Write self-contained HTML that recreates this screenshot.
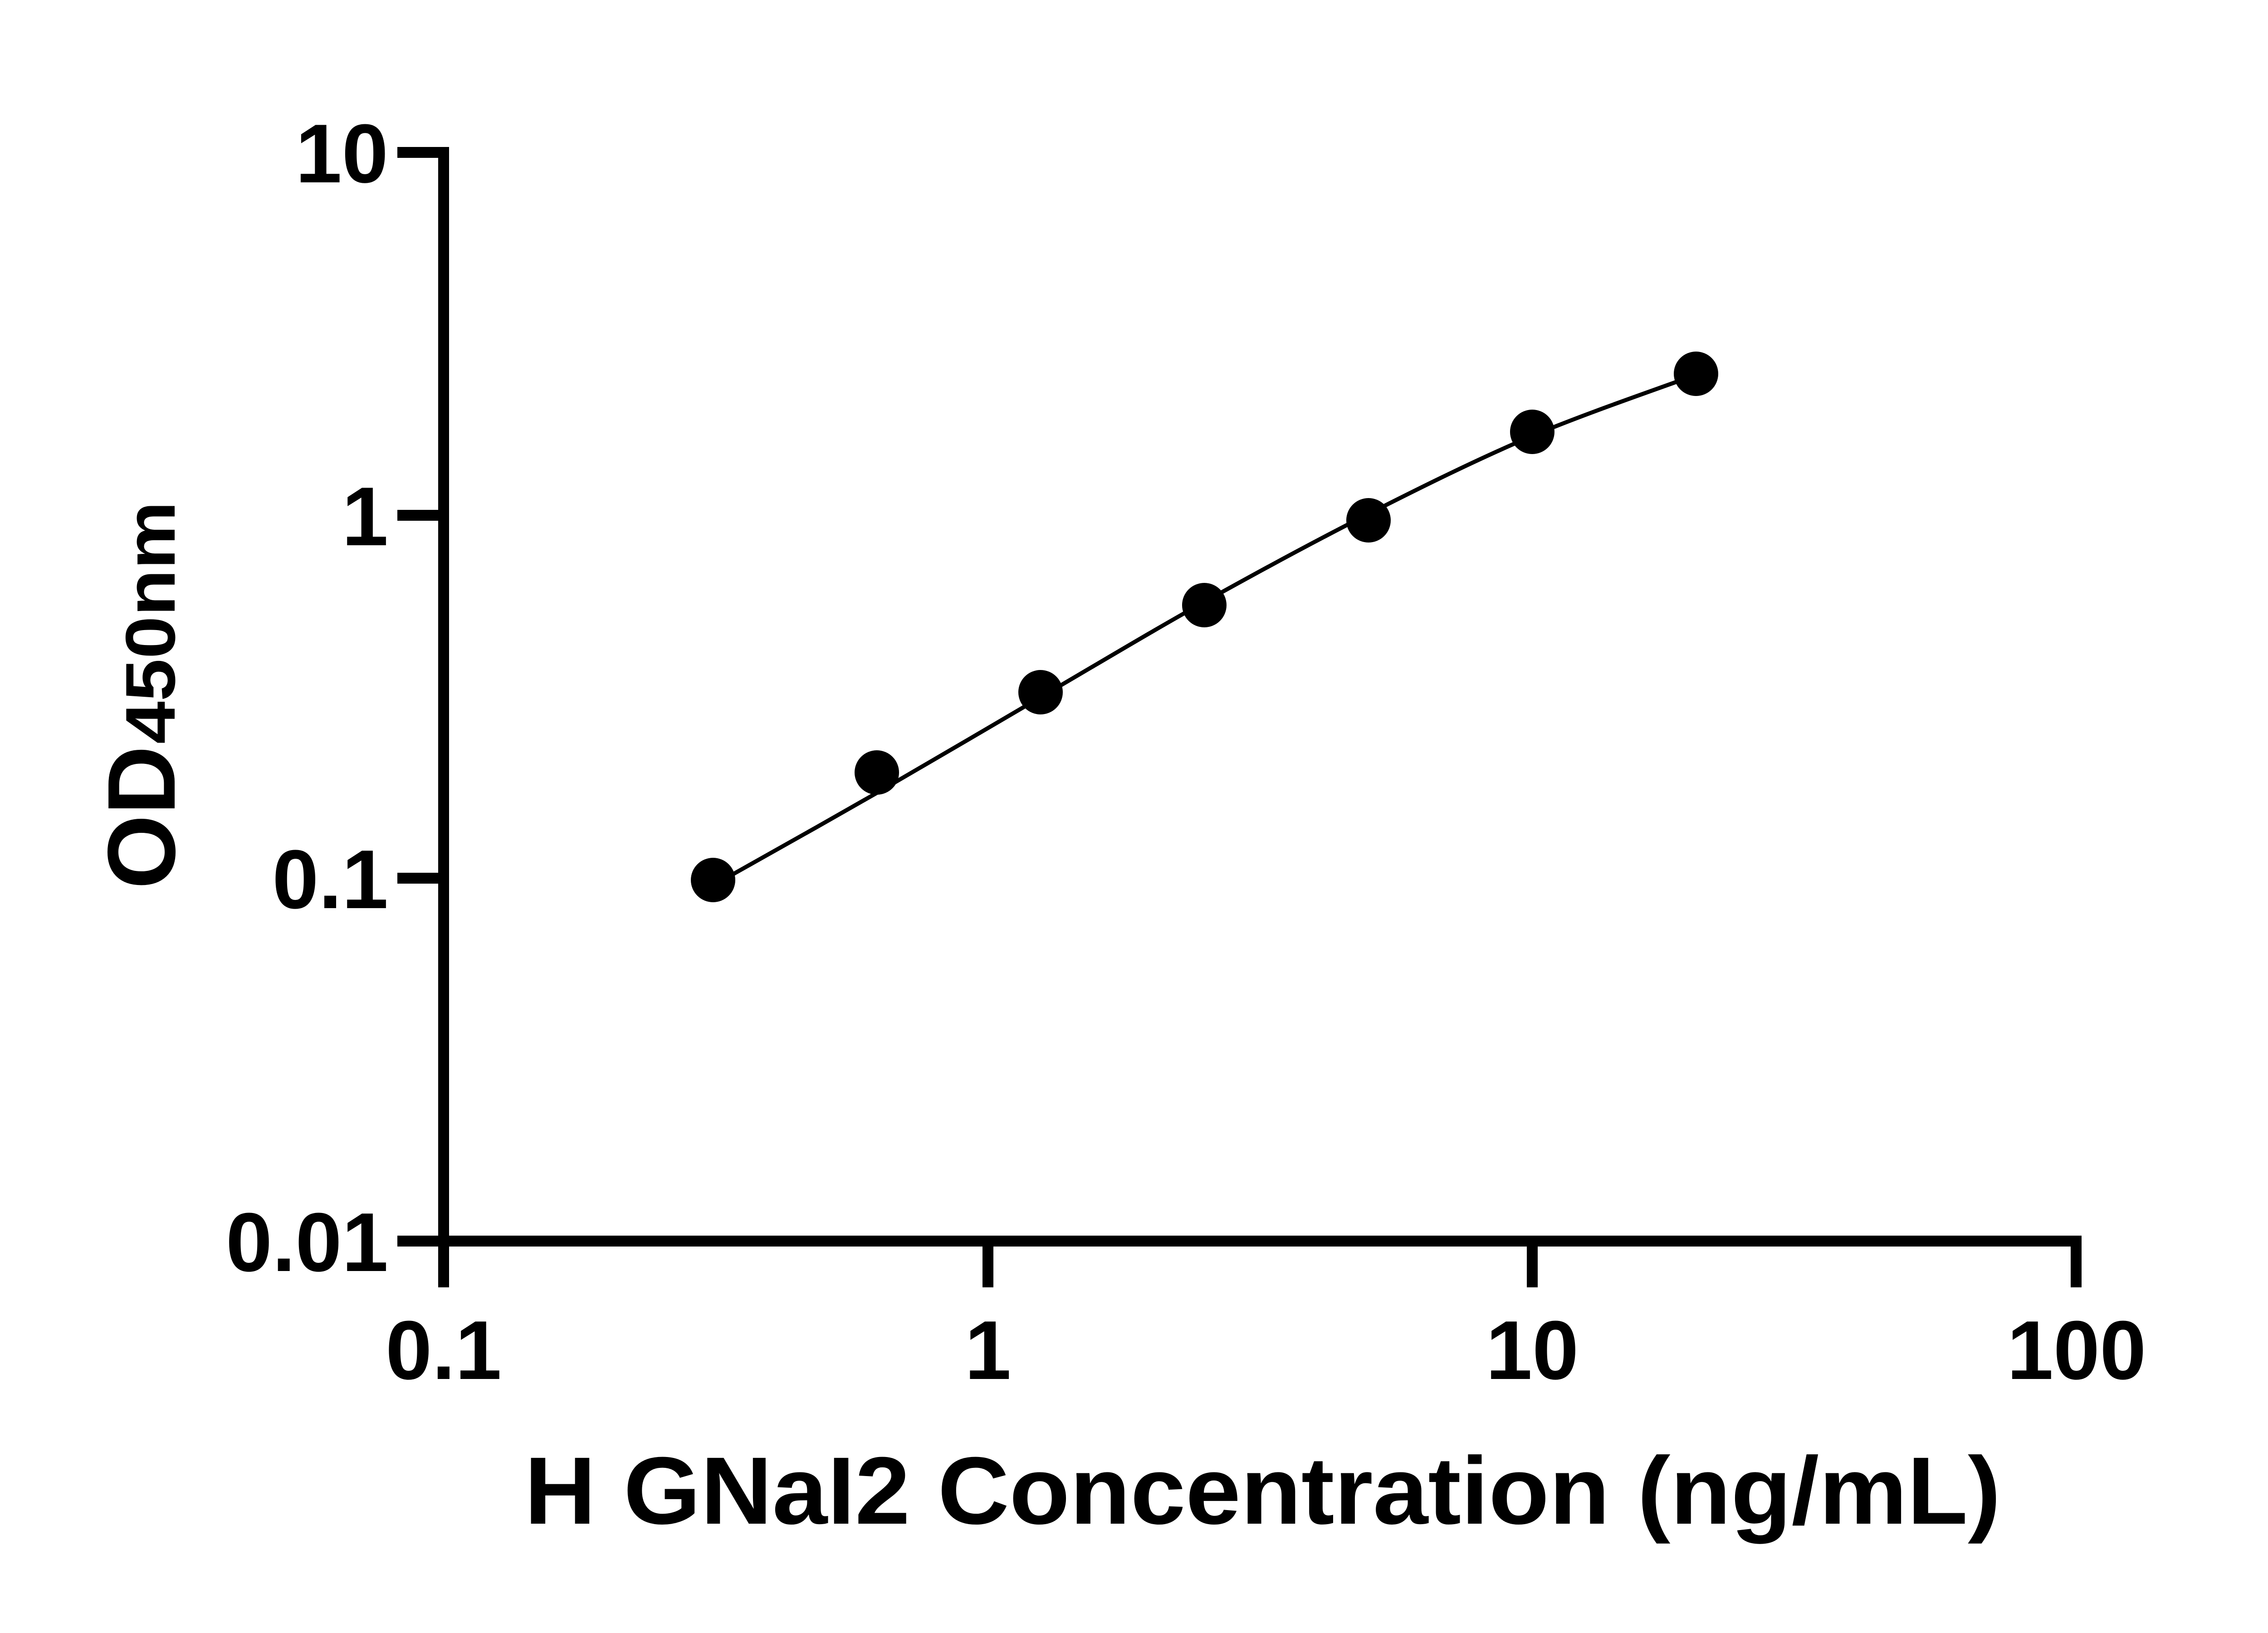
<!DOCTYPE html>
<html>
<head>
<meta charset="utf-8">
<style>
  html, body { margin: 0; padding: 0; background: #ffffff; }
  svg { display: block; }
  text { font-family: "Liberation Sans", Arial, sans-serif; font-weight: bold; fill: #000; }
</style>
</head>
<body>
<svg width="5130" height="3600" viewBox="0 0 5130 3600" xmlns="http://www.w3.org/2000/svg">
  <rect x="0" y="0" width="5130" height="3600" fill="#ffffff"/>

  <!-- Y axis -->
  <rect x="966" y="324" width="24" height="2514" fill="#000"/>
  <!-- X axis -->
  <rect x="876" y="2724" width="3713" height="24" fill="#000"/>

  <!-- Y ticks -->
  <rect x="876" y="324" width="102" height="24" fill="#000"/>
  <rect x="876" y="1124" width="102" height="24" fill="#000"/>
  <rect x="876" y="1924" width="102" height="24" fill="#000"/>

  <!-- X ticks -->
  <rect x="2166" y="2736" width="24" height="102" fill="#000"/>
  <rect x="3366" y="2736" width="24" height="102" fill="#000"/>
  <rect x="4565" y="2736" width="24" height="102" fill="#000"/>

  <!-- Y tick labels -->
  <g font-size="184" text-anchor="end">
    <text x="856" y="402">10</text>
    <text x="856" y="1202">1</text>
    <text x="856" y="2002">0.1</text>
    <text x="856" y="2802">0.01</text>
  </g>

  <!-- X tick labels -->
  <g font-size="184" text-anchor="middle">
    <text x="978" y="3040">0.1</text>
    <text x="2178" y="3040">1</text>
    <text x="3378" y="3040">10</text>
    <text x="4578" y="3040">100</text>
  </g>

  <!-- Fitted curve -->
  <path d="M1572,1952 C1632,1918 1813,1817 1933,1748 C2053,1679 2174,1607 2294,1537 C2414,1467 2535,1394 2655,1327 C2775,1260 2897,1194 3017,1133 C3137,1072 3258,1012 3378,961 C3498,910 3679,849 3739,826"
        fill="none" stroke="#000" stroke-width="9" stroke-linecap="round" stroke-linejoin="round"/>

  <!-- Data points -->
  <g fill="#000">
    <circle cx="1572" cy="1940" r="49"/>
    <circle cx="1933" cy="1703" r="49"/>
    <circle cx="2294" cy="1526" r="49"/>
    <circle cx="2655" cy="1334" r="49"/>
    <circle cx="3017" cy="1147" r="49"/>
    <circle cx="3378" cy="952" r="49"/>
    <circle cx="3739" cy="824" r="49"/>
  </g>

  <!-- Y axis title -->
  <g transform="translate(385,1960) rotate(-90)">
    <text x="0" y="0" font-size="212" textLength="316" lengthAdjust="spacingAndGlyphs">OD</text>
    <text x="320" y="0" font-size="155" textLength="535" lengthAdjust="spacingAndGlyphs">450nm</text>
  </g>

  <!-- X axis title -->
  <text x="1156" y="3359" font-size="211" textLength="3255" lengthAdjust="spacingAndGlyphs">H GNaI2 Concentration (ng/mL)</text>
</svg>
</body>
</html>
